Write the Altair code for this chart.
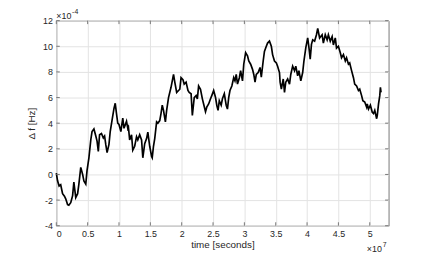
import altair as alt
import pandas as pd

# time in units of 1e7 s, frequency offset in units of 1e-4 Hz
time_1e7 = [
    0, 0.02, 0.045, 0.07, 0.1, 0.13, 0.15, 0.18, 0.2, 0.23, 0.26, 0.28, 0.31, 0.34, 0.36,
    0.39, 0.42, 0.44, 0.47, 0.49, 0.52, 0.55, 0.57, 0.6, 0.63, 0.65, 0.67, 0.69, 0.72, 0.75,
    0.77, 0.79, 0.81, 0.84, 0.86, 0.89, 0.92, 0.94, 0.96, 0.98, 1.0, 1.03, 1.06, 1.08, 1.12,
    1.14, 1.15, 1.17, 1.2, 1.22, 1.25, 1.28, 1.3, 1.33, 1.36, 1.38, 1.41, 1.44, 1.46, 1.49,
    1.52, 1.53, 1.55, 1.57, 1.6, 1.62, 1.65, 1.67, 1.69, 1.71, 1.74, 1.76, 1.79, 1.83, 1.86,
    1.87, 1.89, 1.92, 1.95, 1.97, 1.99, 2.02, 2.04, 2.07, 2.1, 2.12, 2.15, 2.17, 2.2, 2.23,
    2.25, 2.27, 2.3, 2.33, 2.35, 2.38, 2.4, 2.43, 2.46, 2.48, 2.51, 2.54, 2.56, 2.58, 2.6,
    2.63, 2.65, 2.68, 2.71, 2.73, 2.75, 2.77, 2.8, 2.83, 2.85, 2.87, 2.89, 2.92, 2.94, 2.97,
    2.99, 3.02, 3.05, 3.07, 3.1, 3.13, 3.15, 3.17, 3.19, 3.22, 3.25, 3.27, 3.3, 3.32, 3.35,
    3.37, 3.4, 3.43, 3.45, 3.48, 3.51, 3.53, 3.56, 3.57, 3.59, 3.62, 3.64, 3.66, 3.69, 3.72,
    3.74, 3.77, 3.8, 3.82, 3.85, 3.87, 3.9, 3.93, 3.95, 3.98, 4.01, 4.03, 4.05, 4.07, 4.09,
    4.12, 4.15, 4.17, 4.2, 4.24, 4.26, 4.29, 4.32, 4.34, 4.37, 4.4, 4.42, 4.45, 4.47, 4.5,
    4.53, 4.55, 4.58, 4.61, 4.63, 4.66, 4.68, 4.71, 4.74, 4.76, 4.79, 4.82, 4.84, 4.87, 4.89,
    4.92, 4.95, 4.96, 4.98, 5.01, 5.04, 5.06, 5.08, 5.11, 5.12, 5.14, 5.16, 5.17, 5.18,
]
delta_f_1e4 = [
    0.1, -0.5, -0.9, -0.8, -1.5, -1.7, -1.9, -2.35, -2.4, -2.2, -1.65, -0.6, -1.8, -1.5, -0.75,
    0.55, 0.0, -0.5, -0.75, 0.3, 1.3, 2.7, 3.35, 3.55, 3.0, 2.6, 1.8, 3.1, 3.2, 2.85,
    3.0, 2.3, 1.7, 2.35, 3.35, 4.25, 5.15, 5.55, 4.75, 4.0, 3.9, 3.35, 4.4, 3.6, 4.15,
    3.6, 3.7, 2.7, 3.1, 1.9, 2.2, 2.95, 2.7, 3.1, 2.7, 1.3, 2.4, 2.8, 3.3, 2.2,
    1.4, 1.3, 2.2, 2.8, 4.1, 4.0, 4.2, 4.75, 5.4, 5.0, 4.1, 5.0, 6.0, 6.8, 7.55,
    7.8, 7.2, 6.4, 6.55, 6.65, 7.55, 7.4, 7.05, 7.2, 6.55, 6.4, 6.3, 4.6, 6.0, 6.15,
    5.9, 6.9, 6.65, 5.9, 5.5, 4.9, 5.25, 5.5, 5.9, 6.15, 6.55, 6.0, 5.4, 5.0, 5.75,
    5.4, 5.9, 6.3, 5.4, 5.1, 6.0, 6.55, 6.9, 7.55, 7.3, 7.8, 7.05, 7.55, 8.1, 7.3,
    8.6, 9.5, 9.25, 8.85, 8.6, 8.2, 7.8, 7.2, 7.8, 7.95, 8.35, 7.6, 8.85, 9.6, 10.0,
    10.25, 10.4, 10.0, 9.35, 8.85, 8.7, 8.45, 7.95, 7.2, 6.65, 7.45, 6.4, 7.2, 7.45, 7.05,
    7.8, 8.45, 8.1, 8.45, 7.7, 8.1, 7.3, 7.95, 8.85, 9.9, 10.65, 9.9, 9.0, 10.15, 10.5,
    10.4, 10.9, 11.4, 10.65, 10.9, 10.25, 10.9, 10.5, 10.9, 10.4, 10.75, 10.1, 10.65, 9.85, 10.0,
    9.5, 9.1, 9.35, 8.85, 9.1, 8.6, 8.7, 8.1, 7.55, 7.05, 6.9, 6.55, 6.65, 6.15, 5.75,
    5.65, 5.25, 5.5, 5.1, 5.4, 4.85, 4.75, 5.0, 4.35, 4.6, 5.5, 6.15, 6.8, 6.4,
]

x_ticks = [0, 0.5, 1, 1.5, 2, 2.5, 3, 3.5, 4, 4.5, 5]
y_ticks = [-4, -2, 0, 2, 4, 6, 8, 10, 12]
x_domain = [0, 5.3]
y_domain = [-4, 12]

AX = "#777777"
TXT = "#262626"
FONT = "Liberation Sans"
W, H = 337, 208

df = pd.DataFrame({"t": time_1e7, "f": delta_f_1e4})
xt = pd.DataFrame({"t": x_ticks})
yt = pd.DataFrame({"f": y_ticks})

xs = alt.Scale(domain=x_domain, nice=False, zero=False)
ys = alt.Scale(domain=y_domain, nice=False, zero=False)
x_axis = alt.Axis(values=x_ticks, labelExpr="'' + datum.value", titlePadding=1,
                  labelOverlap=False, tickCount=11)
y_axis = alt.Axis(values=y_ticks, labelExpr="'' + datum.value", titlePadding=6,
                  labelOverlap=False, tickCount=9)
X = alt.X("t:Q", scale=xs, title="time [seconds]", axis=x_axis)
Y = alt.Y("f:Q", scale=ys, title="Δ f [Hz]", axis=y_axis)

line = alt.Chart(df).mark_line(color="black", strokeWidth=1.7).encode(x=X, y=Y)

tick_b = alt.Chart(xt).mark_rule(color=AX, strokeWidth=1).encode(
    x=X, y=alt.value(H), y2=alt.value(H - 3.5))
tick_t = alt.Chart(xt).mark_rule(color=AX, strokeWidth=1).encode(
    x=X, y=alt.value(0), y2=alt.value(3.5))
tick_l = alt.Chart(yt).mark_rule(color=AX, strokeWidth=1).encode(
    y=Y, x=alt.value(0), x2=alt.value(3.5))
tick_r = alt.Chart(yt).mark_rule(color=AX, strokeWidth=1).encode(
    y=Y, x=alt.value(W), x2=alt.value(W - 3.5))

def txt(s, x, y, size):
    return alt.Chart(pd.DataFrame({"s": [s]})).mark_text(
        font=FONT, fontSize=size, color=TXT, align="left", baseline="middle"
    ).encode(x=alt.value(x), y=alt.value(y), text="s:N")

exp_y1 = txt("×10", 0, -5, 9)
exp_y2 = txt("-4", 16, -9, 7)
exp_x1 = txt("×10", 315, 232, 9)
exp_x2 = txt("7", 331, 228, 7)

chart = alt.layer(
    line, tick_b, tick_t, tick_l, tick_r, exp_y1, exp_y2, exp_x1, exp_x2
).properties(
    width=W, height=H,
    autosize=alt.AutoSizeParams(type="none"),
    padding={"left": 49, "top": 11, "right": 40, "bottom": 37},
).configure_axis(
    labelFont=FONT, labelFontSize=9, labelColor=TXT, labelPadding=4,
    titleFont=FONT, titleFontSize=10, titleFontWeight="normal", titleColor=TXT,
    domain=False, ticks=False, gridColor="#e3e3e3", gridWidth=1,
).configure_view(stroke=AX, strokeWidth=1)

chart.save("out.html", embed_options={"renderer": "svg", "actions": False})
